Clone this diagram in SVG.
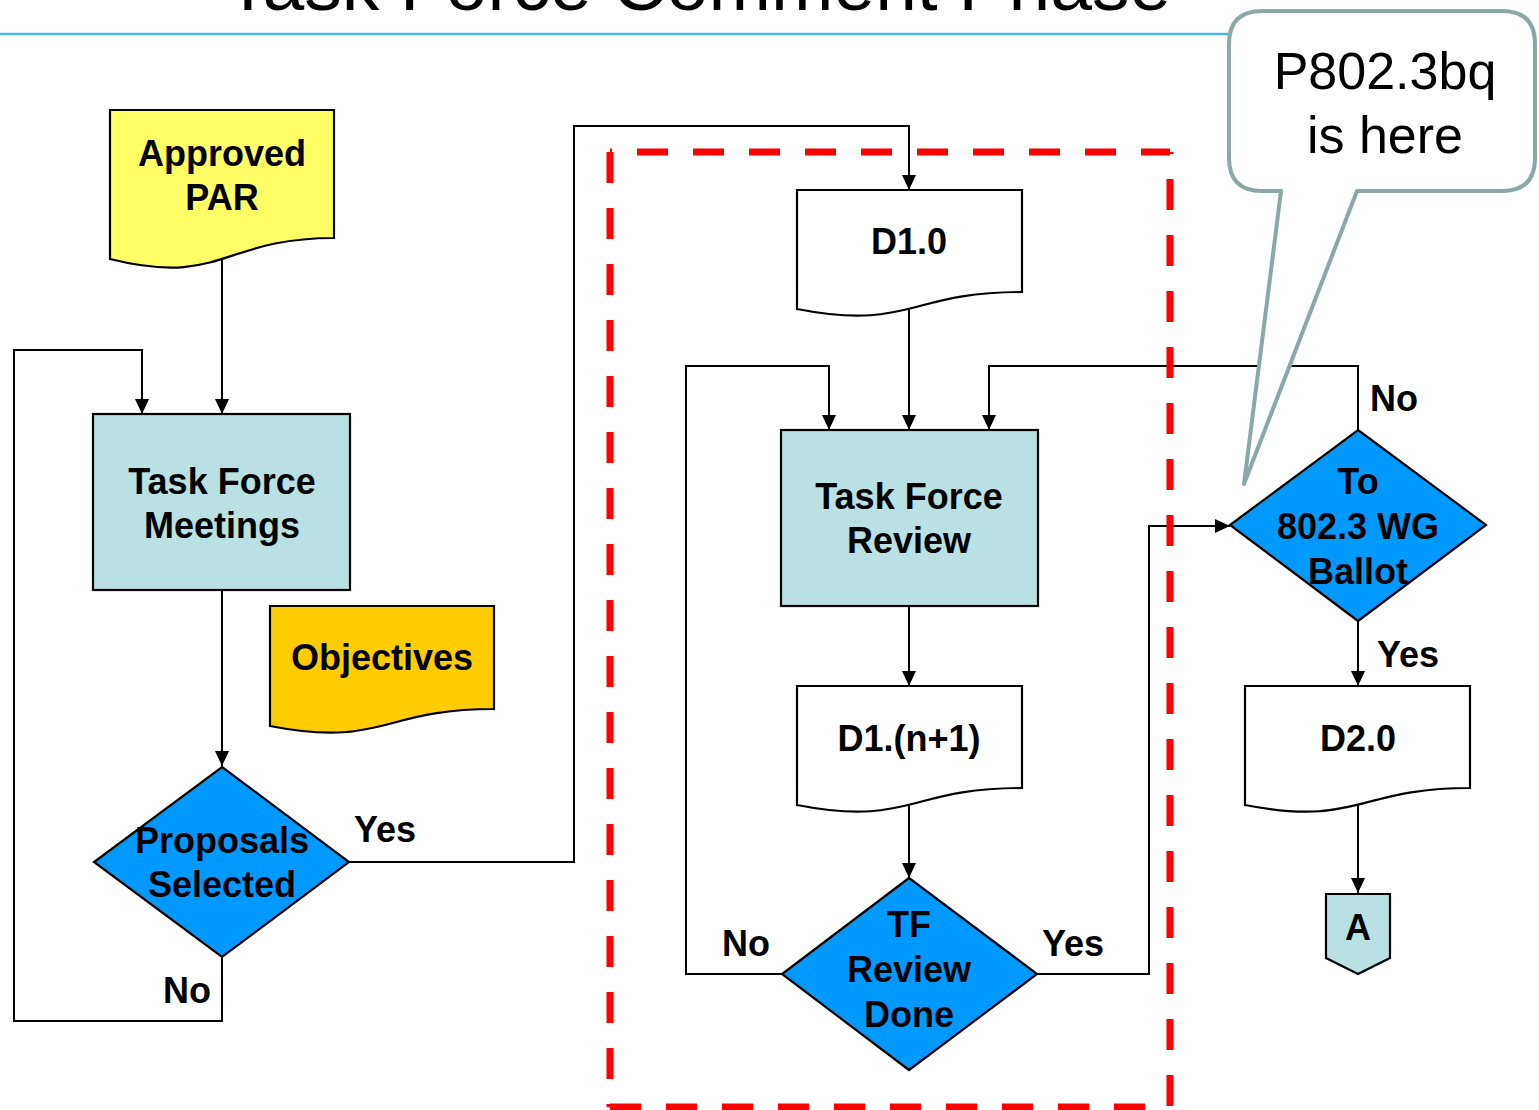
<svg xmlns="http://www.w3.org/2000/svg" width="1539" height="1110" viewBox="0 0 1539 1110">
<defs>
<marker id="arr" markerUnits="userSpaceOnUse" markerWidth="15" markerHeight="14" refX="15" refY="7" orient="auto">
<path d="M0,0 L15,7 L0,14 Z" fill="#000"/>
</marker>
<style>
.node{stroke:#000;stroke-width:2.2}
.lbl{font-family:"Liberation Sans",Arial,sans-serif;font-weight:bold;font-size:36px;fill:#000}
.c{text-anchor:middle}
.conn path{fill:none;stroke:#000;stroke-width:2;marker-end:url(#arr)}
.red line{stroke:#FF0000;stroke-width:7;stroke-dasharray:31 25;fill:none}
</style>
</defs>
<rect x="0" y="0" width="1539" height="1110" fill="#fff"/>
<g id="title">
<text x="225" y="10" style="font-family:'Liberation Sans',Arial,sans-serif;font-size:75px" fill="#000">Task Force Comment Phase</text>
<line x1="0" y1="34" x2="1229" y2="34" stroke="#45B6E8" stroke-width="2.5"/>
</g>
<g class="conn" id="connectors">
<path d="M222,255 V414"/>
<path d="M222,590 V766"/>
<path d="M222,958 V1021 H14 V350 H142 V414"/>
<path d="M349,862 H574 V126 H909 V190"/>
<path d="M909,300 V430"/>
<path d="M909,606 V686"/>
<path d="M909,800 V878"/>
<path d="M782,974 H686 V366 H829 V430"/>
<path d="M1037,974 H1149 V526 H1230"/>
<path d="M1358,430 V366 H989 V430"/>
<path d="M1358,621 V686"/>
<path d="M1358,800 V893"/>
</g>
<g id="approved-par">
<path class="node" fill="#FFFF66" d="M110,110 H334 V238 C222,238 222,287 110,259 Z"/>
<text class="lbl c" x="222" y="166">Approved</text>
<text class="lbl c" x="222" y="210">PAR</text>
</g>
<g id="tf-meetings">
<rect class="node" fill="#B9E0E3" x="93" y="414" width="257" height="176"/>
<text class="lbl c" x="222" y="494">Task Force</text>
<text class="lbl c" x="222" y="538">Meetings</text>
</g>
<g id="objectives">
<path class="node" fill="#FFCC00" d="M270,606 H494 V709 C382,709 382,748 270,726 Z"/>
<text class="lbl c" x="382" y="670">Objectives</text>
</g>
<g id="proposals">
<path class="node" fill="#0099FF" d="M222,767 L349,862 L222,957 L94,862 Z"/>
<text class="lbl c" x="222" y="853">Proposals</text>
<text class="lbl c" x="222" y="897">Selected</text>
</g>
<g id="labels-left">
<text class="lbl" x="354" y="842">Yes</text>
<text class="lbl" x="163" y="1003">No</text>
</g>
<g id="d10">
<path class="node" fill="#fff" d="M797,190 H1022 V292 C909,292 909,331 797,309 Z"/>
<text class="lbl c" x="909" y="254">D1.0</text>
</g>
<g id="tf-review">
<rect class="node" fill="#B9E0E3" x="781" y="430" width="257" height="176"/>
<text class="lbl c" x="909" y="509">Task Force</text>
<text class="lbl c" x="909" y="553">Review</text>
</g>
<g id="d1n1">
<path class="node" fill="#fff" d="M797,686 H1022 V788 C909,788 909,827 797,805 Z"/>
<text class="lbl c" x="909" y="751">D1.(n+1)</text>
</g>
<g id="tf-review-done">
<path class="node" fill="#0099FF" d="M909,878 L1037,974 L909,1070 L782,974 Z"/>
<text class="lbl c" x="909" y="937">TF</text>
<text class="lbl c" x="909" y="982">Review</text>
<text class="lbl c" x="909" y="1027">Done</text>
<text class="lbl" x="722" y="956">No</text>
<text class="lbl" x="1042" y="956">Yes</text>
</g>
<g id="wg-ballot">
<path class="node" fill="#0099FF" d="M1358,430 L1486,525 L1358,621 L1230,525 Z"/>
<text class="lbl c" x="1358" y="494">To</text>
<text class="lbl c" x="1358" y="539">802.3 WG</text>
<text class="lbl c" x="1358" y="584">Ballot</text>
<text class="lbl" x="1370" y="411">No</text>
<text class="lbl" x="1377" y="667">Yes</text>
</g>
<g id="d20">
<path class="node" fill="#fff" d="M1245,686 H1470 V788 C1358,788 1358,827 1245,805 Z"/>
<text class="lbl c" x="1358" y="751">D2.0</text>
</g>
<g id="offpage-a">
<path class="node" fill="#B9E0E3" d="M1326,894 H1390 V958 L1358,974 L1326,958 Z"/>
<text class="lbl c" x="1358" y="940">A</text>
</g>
<g id="comment-region" class="red">
<line x1="610" y1="152" x2="610" y2="1107"/>
<line x1="610" y1="152" x2="1170" y2="152" stroke-dashoffset="29"/>
<line x1="1170" y1="152" x2="1170" y2="1107" stroke-dashoffset="29"/>
<line x1="610" y1="1107" x2="1170" y2="1107"/>
</g>
<g id="callout">
<path d="M1262,11 H1502 Q1535,11 1535,44 V158 Q1535,191 1502,191 H1357 L1244,484 L1281,191 H1262 Q1229,191 1229,158 V44 Q1229,11 1262,11 Z" fill="#fff" stroke="#8CA7A7" stroke-width="4" stroke-linejoin="round"/>
<text x="1385" y="89" text-anchor="middle" style="font-family:'Liberation Sans',Arial,sans-serif;font-size:52px" fill="#000">P802.3bq</text>
<text x="1385" y="153" text-anchor="middle" style="font-family:'Liberation Sans',Arial,sans-serif;font-size:52px" fill="#000">is here</text>
</g>
</svg>
